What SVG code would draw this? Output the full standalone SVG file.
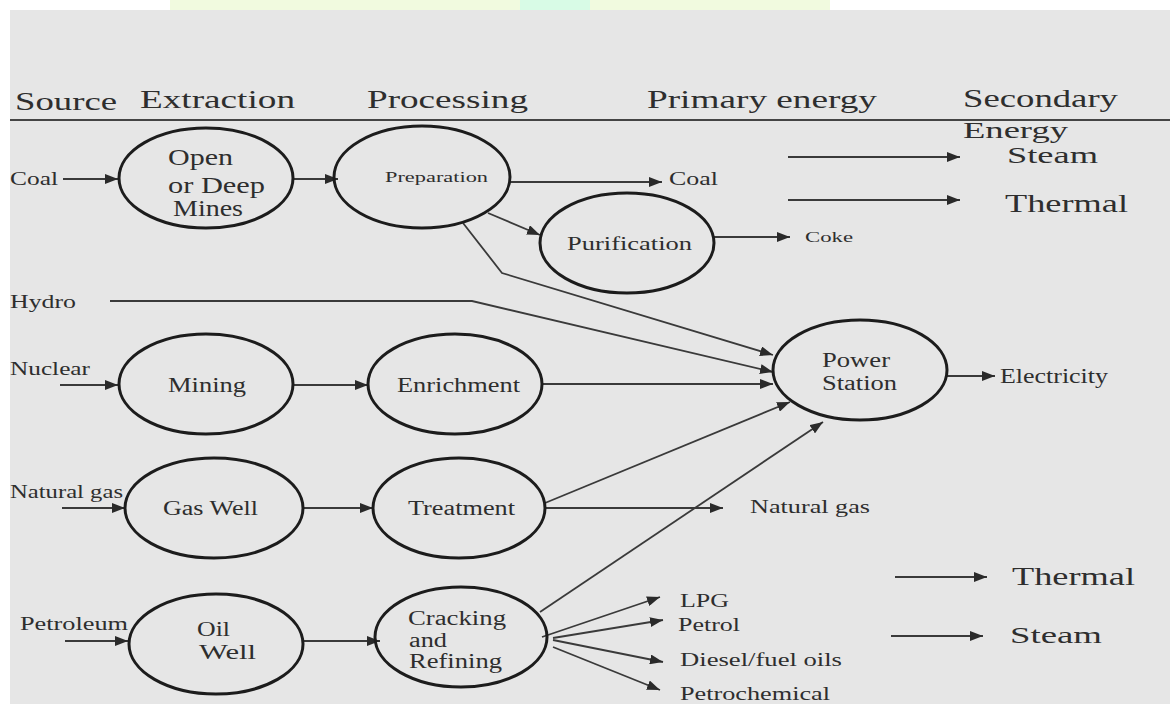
<svg xmlns="http://www.w3.org/2000/svg" width="1170" height="704" viewBox="0 0 1170 704" font-family="'Liberation Serif', 'Times New Roman', 'DejaVu Serif', serif">
<defs>
<marker id="ah" markerUnits="userSpaceOnUse" markerWidth="14" markerHeight="10" refX="13" refY="5" orient="auto">
<path d="M0,0 L13,5 L0,10 Z" fill="#2a2a2a"/>
</marker>
<style>
text{font-family:'Liberation Serif','Times New Roman',serif;fill:#2e2e2e;}
.hd{font-size:26px;}
.nd{fill:none;stroke:#1c1c1c;stroke-width:3;}
.c{fill:none;stroke:#3a3a3a;stroke-width:1.8;}
.a{marker-end:url(#ah);}
</style>
</defs>
<rect x="0" y="0" width="1170" height="704" fill="#ffffff"/>
<rect x="170" y="0" width="660" height="10" fill="#f1fadf"/>
<rect x="520" y="0" width="70" height="10" fill="#d8fbe6"/>
<rect x="10" y="10" width="1160" height="694" fill="#e6e6e6"/>

<g id="header">
<text class="hd" x="15" y="110" textLength="102" lengthAdjust="spacingAndGlyphs">Source</text>
<text class="hd" x="140" y="108" textLength="155" lengthAdjust="spacingAndGlyphs">Extraction</text>
<text class="hd" x="367" y="108" textLength="161" lengthAdjust="spacingAndGlyphs">Processing</text>
<text class="hd" x="647" y="108" textLength="230" lengthAdjust="spacingAndGlyphs">Primary energy</text>
<text class="hd" x="963" y="107" textLength="155" lengthAdjust="spacingAndGlyphs">Secondary</text>
<line x1="10" y1="120" x2="1170" y2="120" stroke="#444" stroke-width="2"/>
<text x="963" y="138" font-size="23" textLength="105" lengthAdjust="spacingAndGlyphs">Energy</text>
</g>

<g id="connectors">
<line class="c a" x1="63" y1="179" x2="118" y2="179"/>
<line class="c a" x1="293" y1="179" x2="338" y2="179"/>
<line class="c a" x1="510" y1="182" x2="662" y2="182"/>
<line class="c a" x1="488" y1="213" x2="540" y2="235"/>
<line class="c a" x1="713" y1="237" x2="790" y2="237"/>
<polyline class="c a" points="463,223 502,273 773,355"/>
<polyline class="c a" points="110,301 472,301 773,372"/>
<line class="c a" x1="60" y1="385" x2="118" y2="385"/>
<line class="c a" x1="293" y1="385" x2="368" y2="385"/>
<line class="c a" x1="543" y1="384" x2="773" y2="384"/>
<line class="c a" x1="947" y1="376" x2="995" y2="376"/>
<line class="c a" x1="62" y1="508" x2="125" y2="508"/>
<line class="c a" x1="304" y1="508" x2="373" y2="508"/>
<line class="c a" x1="545" y1="508" x2="723" y2="508"/>
<line class="c a" x1="545" y1="503" x2="790" y2="402"/>
<line class="c a" x1="540" y1="612" x2="823" y2="422"/>
<line class="c a" x1="65" y1="641" x2="128" y2="641"/>
<line class="c a" x1="304" y1="641" x2="380" y2="641"/>
<line class="c a" x1="542" y1="637" x2="660" y2="597"/>
<line class="c a" x1="553" y1="638" x2="663" y2="620"/>
<line class="c a" x1="553" y1="640" x2="663" y2="662"/>
<line class="c a" x1="553" y1="647" x2="660" y2="690"/>
<line class="c a" x1="788" y1="157" x2="960" y2="157"/>
<line class="c a" x1="788" y1="200" x2="960" y2="200"/>
<line class="c a" x1="895" y1="577" x2="987" y2="577"/>
<line class="c a" x1="891" y1="636" x2="983" y2="636"/>
</g>

<g id="labels">
<text x="10" y="185" font-size="19" textLength="48" lengthAdjust="spacingAndGlyphs">Coal</text>
<text x="669" y="185" font-size="18" textLength="49" lengthAdjust="spacingAndGlyphs">Coal</text>
<text x="805" y="242" font-size="14" textLength="48" lengthAdjust="spacingAndGlyphs">Coke</text>
<text x="10" y="308" font-size="19" textLength="66" lengthAdjust="spacingAndGlyphs">Hydro</text>
<text x="10" y="375" font-size="19" textLength="80" lengthAdjust="spacingAndGlyphs">Nuclear</text>
<text x="1000" y="383" font-size="20" textLength="108" lengthAdjust="spacingAndGlyphs">Electricity</text>
<text x="10" y="498" font-size="19" textLength="113" lengthAdjust="spacingAndGlyphs">Natural gas</text>
<text x="750" y="513" font-size="19" textLength="120" lengthAdjust="spacingAndGlyphs">Natural gas</text>
<text x="20" y="630" font-size="19" textLength="108" lengthAdjust="spacingAndGlyphs">Petroleum</text>
<text x="680" y="607" font-size="18" textLength="49" lengthAdjust="spacingAndGlyphs">LPG</text>
<text x="678" y="631" font-size="18" textLength="62" lengthAdjust="spacingAndGlyphs">Petrol</text>
<text x="680" y="666" font-size="18" textLength="162" lengthAdjust="spacingAndGlyphs">Diesel/fuel oils</text>
<text x="680" y="700" font-size="18" textLength="150" lengthAdjust="spacingAndGlyphs">Petrochemical</text>
<text x="1007" y="163" font-size="23" textLength="91" lengthAdjust="spacingAndGlyphs">Steam</text>
<text x="1005" y="212" font-size="25" textLength="123" lengthAdjust="spacingAndGlyphs">Thermal</text>
<text x="1012" y="585" font-size="25" textLength="123" lengthAdjust="spacingAndGlyphs">Thermal</text>
<text x="1010" y="643" font-size="23" textLength="92" lengthAdjust="spacingAndGlyphs">Steam</text>
</g>

<g id="mines">
<ellipse class="nd" cx="206" cy="178" rx="87" ry="50"/>
<text x="168" y="165" font-size="23" textLength="65" lengthAdjust="spacingAndGlyphs">Open</text>
<text x="168" y="193" font-size="23" textLength="97" lengthAdjust="spacingAndGlyphs">or Deep</text>
<text x="173" y="216" font-size="23" textLength="70" lengthAdjust="spacingAndGlyphs">Mines</text>
</g>
<g id="preparation">
<ellipse class="nd" cx="422" cy="177" rx="88" ry="51"/>
<text x="385" y="182" font-size="15" textLength="103" lengthAdjust="spacingAndGlyphs">Preparation</text>
</g>
<g id="purification">
<ellipse class="nd" cx="627" cy="243" rx="87" ry="50"/>
<text x="567" y="250" font-size="18" textLength="125" lengthAdjust="spacingAndGlyphs">Purification</text>
</g>
<g id="mining">
<ellipse class="nd" cx="206" cy="384" rx="87" ry="50"/>
<text x="168" y="392" font-size="22" textLength="78" lengthAdjust="spacingAndGlyphs">Mining</text>
</g>
<g id="enrichment">
<ellipse class="nd" cx="455" cy="384" rx="87" ry="50"/>
<text x="397" y="392" font-size="20" textLength="123" lengthAdjust="spacingAndGlyphs">Enrichment</text>
</g>
<g id="power-station">
<ellipse class="nd" cx="860" cy="370" rx="87" ry="50"/>
<text x="822" y="367" font-size="20" textLength="68" lengthAdjust="spacingAndGlyphs">Power</text>
<text x="822" y="390" font-size="20" textLength="75" lengthAdjust="spacingAndGlyphs">Station</text>
</g>
<g id="gas-well">
<ellipse class="nd" cx="214" cy="508" rx="89" ry="50"/>
<text x="163" y="515" font-size="20" textLength="95" lengthAdjust="spacingAndGlyphs">Gas Well</text>
</g>
<g id="treatment">
<ellipse class="nd" cx="459" cy="508" rx="86" ry="50"/>
<text x="408" y="515" font-size="20" textLength="107" lengthAdjust="spacingAndGlyphs">Treatment</text>
</g>
<g id="oil-well">
<ellipse class="nd" cx="216" cy="644" rx="87" ry="50"/>
<text x="197" y="636" font-size="21" textLength="33" lengthAdjust="spacingAndGlyphs">Oil</text>
<text x="199" y="659" font-size="21" textLength="57" lengthAdjust="spacingAndGlyphs">Well</text>
</g>
<g id="cracking">
<ellipse class="nd" cx="461" cy="637" rx="86" ry="50"/>
<text x="408" y="625" font-size="20" textLength="98" lengthAdjust="spacingAndGlyphs">Cracking</text>
<text x="409" y="647" font-size="20" textLength="38" lengthAdjust="spacingAndGlyphs">and</text>
<text x="409" y="668" font-size="20" textLength="93" lengthAdjust="spacingAndGlyphs">Refining</text>
</g>
</svg>
